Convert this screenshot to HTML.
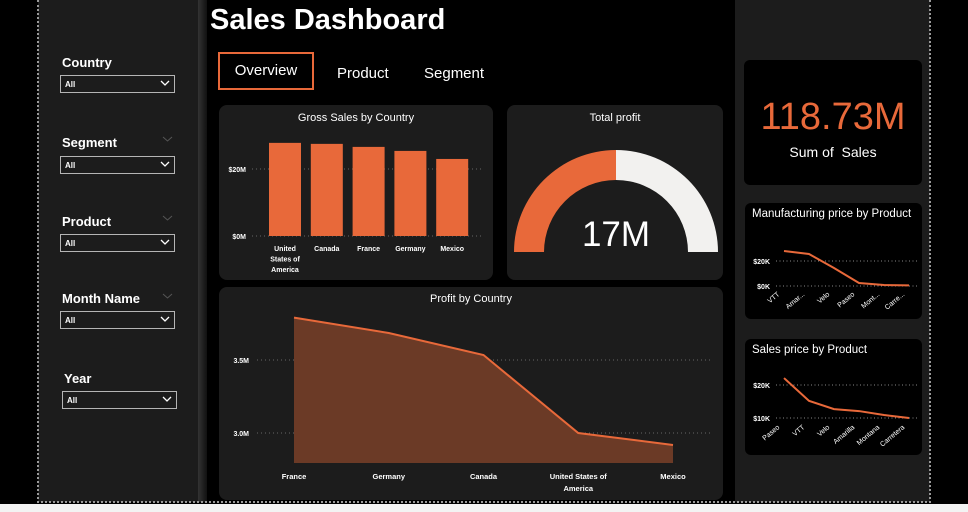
<!DOCTYPE html>
<html><head><meta charset="utf-8">
<style>
*{margin:0;padding:0;box-sizing:border-box}
body{width:968px;height:512px;background:#000;font-family:"Liberation Sans",sans-serif;position:relative;overflow:hidden;color:#fff}
.abs{position:absolute}
.lbl{position:absolute;font-weight:bold;font-size:13px;color:#fff}
.dd{position:absolute;width:115px;height:18px;border:1px solid #b5b5b5;font-size:8px;font-weight:bold;padding:4px 0 0 4px;background:#1c1c1c}
.dd svg{position:absolute;right:4px;top:4px}
.card{position:absolute;background:#1c1c1c;border-radius:8px}
.kcard{position:absolute;background:#000;border-radius:6px}
</style></head><body>
<div class="abs" style="left:38px;top:0;width:162px;height:502px;background:#1c1c1c"></div>
<div class="abs" style="left:198px;top:0;width:9px;height:502px;background:linear-gradient(90deg,#333,#111)"></div>
<div class="abs" style="left:735px;top:0;width:195px;height:502px;background:#1c1c1c"></div>
<div class="abs" style="left:0;top:504px;width:968px;height:8px;background:#f3f3f3"></div>
<div class="abs" style="left:37px;top:0;width:0;height:503px;border-left:2px dotted #999"></div>
<div class="abs" style="left:37px;top:501px;width:894px;height:0;border-top:2px dotted #999"></div>
<div class="abs" style="left:929px;top:0;width:0;height:503px;border-left:2px dotted #999"></div>

<div class="abs" style="left:210px;top:4px;font-size:29px;font-weight:bold">Sales Dashboard</div>
<div class="abs" style="left:218px;top:52px;width:96px;height:38px;border:2px solid #e8693a;font-size:15px;text-align:center;line-height:34px">Overview</div>
<div class="abs" style="left:337px;top:65px;font-size:15px">Product</div>
<div class="abs" style="left:424px;top:65px;font-size:15px">Segment</div>

<!-- filters -->
<div class="lbl" style="left:62px;top:55px">Country</div>
<div class="dd" style="left:60px;top:75px">All<svg width="10" height="7"><path d="M1 1L5 5L9 1" stroke="#fff" fill="none" stroke-width="1.3"/></svg></div>
<div class="lbl" style="left:62px;top:135px">Segment</div>
<svg class="abs" style="left:162px;top:136px" width="11" height="7"><path d="M1 1L5.5 5L10 1" stroke="#555" fill="none"/></svg>
<div class="dd" style="left:60px;top:156px">All<svg width="10" height="7"><path d="M1 1L5 5L9 1" stroke="#fff" fill="none" stroke-width="1.3"/></svg></div>
<div class="lbl" style="left:62px;top:214px">Product</div>
<svg class="abs" style="left:162px;top:215px" width="11" height="7"><path d="M1 1L5.5 5L10 1" stroke="#555" fill="none"/></svg>
<div class="dd" style="left:60px;top:234px">All<svg width="10" height="7"><path d="M1 1L5 5L9 1" stroke="#fff" fill="none" stroke-width="1.3"/></svg></div>
<div class="lbl" style="left:62px;top:291px">Month Name</div>
<svg class="abs" style="left:162px;top:293px" width="11" height="7"><path d="M1 1L5.5 5L10 1" stroke="#555" fill="none"/></svg>
<div class="dd" style="left:60px;top:311px">All<svg width="10" height="7"><path d="M1 1L5 5L9 1" stroke="#fff" fill="none" stroke-width="1.3"/></svg></div>
<div class="lbl" style="left:64px;top:371px">Year</div>
<div class="dd" style="left:62px;top:391px">All<svg width="10" height="7"><path d="M1 1L5 5L9 1" stroke="#fff" fill="none" stroke-width="1.3"/></svg></div>

<!-- cards -->
<div class="card" style="left:219px;top:105px;width:274px;height:175px"></div>
<div class="card" style="left:507px;top:105px;width:216px;height:175px"></div>
<div class="card" style="left:219px;top:287px;width:504px;height:213px"></div>
<div class="kcard" style="left:744px;top:60px;width:178px;height:125px"></div>
<div class="abs" style="left:744px;top:96px;width:178px;text-align:center;font-size:38px;color:#e8693a">118.73M</div>
<div class="abs" style="left:744px;top:144px;width:178px;text-align:center;font-size:14px">Sum of &nbsp;Sales</div>
<div class="kcard" style="left:745px;top:203px;width:177px;height:116px"></div>
<div class="kcard" style="left:745px;top:339px;width:177px;height:116px"></div>

<svg class="abs" style="left:0;top:0" width="968" height="512" id="chart" font-family="Liberation Sans, sans-serif"></svg>

<script>
// Gross sales by country
const gsCats = ["United States of America","Canada","France","Germany","Mexico"];
const gsVals = [27.8,27.5,26.6,25.4,23.0];
const gsTicks = [0,20];
// Total profit gauge
const gaugeValue = [17];
const gaugeMax = [34];
// Profit by country
const pcCats = ["France","Germany","Canada","United States of America","Mexico"];
const pcVals = [3.79,3.685,3.534,3.0,2.918];
const pcTicks = [3.0,3.5];
// Manufacturing price by product
const mpCats = ["VTT","Amar...","Velo","Paseo","Mont...","Carre..."];
const mpVals = [28,25.6,14.4,2.4,0.8,0.5];
const mpTicks = [0,20];
// Sales price by product
const spCats = ["Paseo","VTT","Velo","Amarilla","Montana","Carretera"];
const spVals = [22.1,15.2,12.7,12.1,10.9,10.0];
const spTicks = [10,20];

const svg=document.getElementById('chart');
const NS='http://www.w3.org/2000/svg';
function mk(tag,attrs,parent){const e=document.createElementNS(NS,tag);for(const k in attrs)e.setAttribute(k,attrs[k]);(parent||svg).appendChild(e);return e;}
function txt(x,y,s,size,anchor,weight,fill){const t=mk('text',{x:x,y:y,'font-size':size,'text-anchor':anchor||'middle','font-weight':weight||'normal',fill:fill||'#fff'});t.textContent=s;return t;}
const OR='#e8693a';

// ---- Gross sales bars
let t=txt(356,121,'Gross Sales by Country',11);


const gsY=v=>236-v*(67/20);
const gsX=i=>269+i*41.8;
gsTicks.forEach(v=>{
  const l=mk('line',{x1:252,x2:484,y1:gsY(v),y2:gsY(v),stroke:'#666','stroke-dasharray':'1 3'});
  
  
  const tt=txt(246,gsY(v)+3,'$'+v+'M',7,'end','bold');
  
  
});
gsVals.forEach((v,i)=>{
  const r=mk('rect',{x:gsX(i),y:gsY(v),width:32,height:gsY(0)-gsY(v),fill:OR});
  
  
  const words=gsCats[i]==="United States of America"?["United","States of","America"]:[gsCats[i]];
  words.forEach((w,j)=>{const tt=txt(gsX(i)+16,251+j*10.5,w,7,'middle','bold');
    
    });
});

// ---- Gauge
t=txt(615,121,'Total profit',11);


const cx=616,cy=252,R=102,r0=72;
function arc(a0,a1){const p=(a,rr)=>[cx+rr*Math.cos(a),cy-rr*Math.sin(a)];
  const [x0,y0]=p(a0,R),[x1,y1]=p(a1,R),[x2,y2]=p(a1,r0),[x3,y3]=p(a0,r0);
  return `M${x0} ${y0}A${R} ${R} 0 0 1 ${x1} ${y1}L${x2} ${y2}A${r0} ${r0} 0 0 0 ${x3} ${y3}Z`;}
const frac=gaugeValue[0]/gaugeMax[0];
const aMid=Math.PI*(1-frac);
let g=mk('path',{d:arc(aMid,0),fill:'#f2f1ef'});


g=mk('path',{d:arc(Math.PI,aMid),fill:OR});


t=txt(616,246,gaugeValue[0]+'M',35);



// ---- Profit by country area
t=txt(471,302,'Profit by Country',11);


const pcY=v=>433-(v-3.0)*146;
const pcX=i=>294+i*94.75;
const pcBase=463;
pcTicks.forEach(v=>{
  const l=mk('line',{x1:257,x2:710,y1:pcY(v),y2:pcY(v),stroke:'#666','stroke-dasharray':'1 3'});
  
  
  const tt=txt(249,pcY(v)+3,v.toFixed(1)+'M',7,'end','bold');
  
  
});
let pts=pcVals.map((v,i)=>pcX(i)+','+pcY(v));
let a=mk('polygon',{points:pcX(0)+','+pcBase+' '+pts.join(' ')+' '+pcX(pcVals.length-1)+','+pcBase,fill:'#6b3a26'});


a=mk('polyline',{points:pts.join(' '),fill:'none',stroke:OR,'stroke-width':2});


pcCats.forEach((c,i)=>{
  const words=c==="United States of America"?["United States of","America"]:[c];
  words.forEach((w,j)=>{const tt=txt(pcX(i),479+j*12,w,7.5,'middle','bold');
    
    });
});

// ---- small line charts
function small(cats,vals,ticks,top,yFn,title,name,labTop){
  const tt=txt(752,top+14,title,11.5,'start');
  
  
  const xf=i=>784+i*25;
  ticks.forEach(v=>{
    const l=mk('line',{x1:776,x2:918,y1:yFn(v),y2:yFn(v),stroke:'#888','stroke-dasharray':'1 2.5'});
    
    
    const k=txt(770,yFn(v)+3,'$'+v+'K',7,'end','bold');
    
    
  });
  const p=mk('polyline',{points:vals.map((v,i)=>xf(i)+','+yFn(v)).join(' '),fill:'none',stroke:OR,'stroke-width':2});
  
  
  cats.forEach((c,i)=>{
    const x=xf(i)-4,y=labTop;
    const l=txt(x,y,c,7,'end','normal');
    l.setAttribute('transform',`rotate(-40 ${x} ${y})`);
    
    
  });
}
small(mpCats,mpVals,mpTicks,203,v=>286-v*1.25,'Manufacturing price by Product','manufacturing-price',295);
small(spCats,spVals,spTicks,339,v=>418-(v-10)*3.3,'Sales price by Product','sales-price',428);
</script>
</body></html>
